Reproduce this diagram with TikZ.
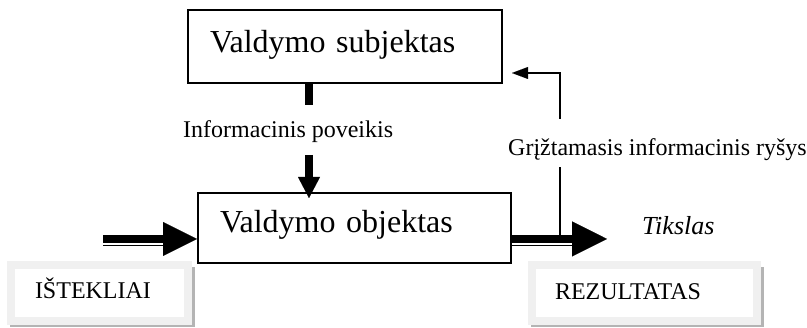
\documentclass[tikz,border=0pt]{standalone}
\usepackage{fontspec}
\setmainfont{Liberation Serif}
\usetikzlibrary{arrows.meta,backgrounds}
\definecolor{framegray}{HTML}{F0F0F0}
\definecolor{shadowgray}{HTML}{B4B4B4}
\begin{document}
\begin{tikzpicture}[x=1pt,y=-1pt,
  mainbox/.style={draw=black, line width=2pt, align=left, inner ysep=0pt,
    font=\fontsize{32}{38}\selectfont},
  framebox/.style={draw=framegray, line width=8pt, fill=white, align=left,
    inner ysep=0pt, minimum height=56pt, font=\fontsize{24}{28}\selectfont},
  caption/.style={inner sep=0pt, anchor=base west, font=\fontsize{24}{28}\selectfont},
  bar/.style={line width=8pt},
  thinbar/.style={line width=1.5pt},
  fbline/.style={line width=1.3pt},
  bigtip/.style={-{Triangle[length=#1, width=#1, line width=0.01pt]}},
]
\useasboundingbox (0,0) rectangle (807,328);

% the two control boxes
\node[mainbox, text width=270pt, inner xsep=22pt, minimum height=73pt,
      text height=22pt, text depth=9pt] (subj) at (345,46.5) {Valdymo subjektas};
\node[mainbox, text width=269pt, inner xsep=22pt, minimum height=70pt,
      text height=22pt, text depth=12pt] (obj) at (354.5,228) {Valdymo objektas};

% resource and result frames
\node[framebox, text width=129pt, inner xsep=24pt, text height=17pt, text depth=5pt]
      (res) at (99.5,293) {IŠTEKLIAI};
\node[framebox, text width=179pt, inner xsep=23pt, text height=18pt, text depth=4pt]
      (out) at (644.5,293) {REZULTATAS};
\begin{scope}[on background layer]
  \fill[shadowgray] ([shift={(3,6)}]res.north west) rectangle ([shift={(3,2.5)}]res.south east);
  \fill[shadowgray] ([shift={(3,6)}]out.north west) rectangle ([shift={(3,2.5)}]out.south east);
\end{scope}

% labels
\node[caption] (info) at (183,138) {Informacinis poveikis};
\node[caption] (fbtext) at (508,156) {Grįžtamasis informacinis ryšys};
\node[caption, font=\fontsize{26}{30}\selectfont\itshape] (goal) at (642,235) {Tikslas};

% control action
\coordinate (c1) at (309,105);
\coordinate (c2) at (309,155);
\draw[bar] (subj.south -| c1) -- (c1);
\draw[bar, -{Triangle[length=21pt, width=22pt, line width=0.01pt]}]
  (c2) -- ([yshift=-6pt]obj.north -| c2);

% input and output flows
\coordinate (in0) at (103,239);
\coordinate (in1) at (103,245.5);
\coordinate (out0) at (607,239);
\coordinate (out1) at (572,245.5);
\draw[bar, bigtip=34pt] (in0) -- (obj.west |- in0);
\draw[thinbar] (in1) -- ++(60,0);
\draw[bar, bigtip=35pt] (obj.east |- in0) -- (out0);
\draw[thinbar] (obj.east |- in1) -- (out1);

% feedback loop
\coordinate (f0) at (560,235);
\coordinate (f1) at (560,167);
\coordinate (f2) at (560,119);
\coordinate (f3) at (512,73);
\draw[fbline] (f0) -- (f1);
\draw[fbline, -{Triangle[length=16pt, width=12pt, line width=0.01pt]}] (f2) |- (f3);
\end{tikzpicture}
\end{document}
